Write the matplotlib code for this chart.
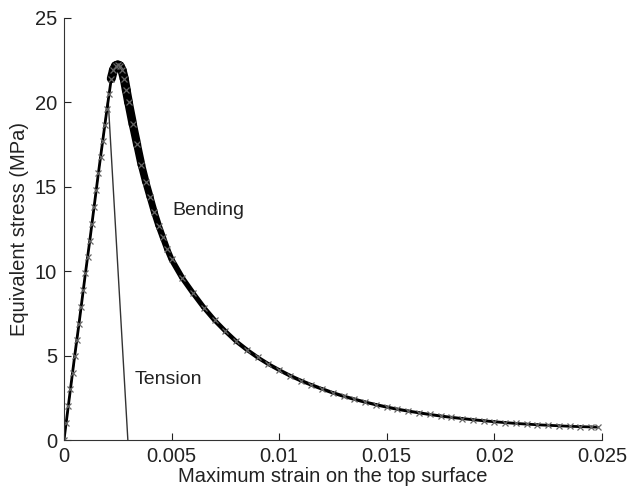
import matplotlib
matplotlib.use("Agg")
import matplotlib.pyplot as plt

plt.rcParams['font.family'] = ['Liberation Sans', 'DejaVu Sans']

# bending curve (strain, MPa)
bend_strain = [0.0, 0.0001, 0.0002, 0.0003, 0.0004, 0.0005, 0.0006, 0.0007,
               0.0008, 0.0009, 0.0010, 0.0011, 0.0012, 0.0013, 0.0014, 0.0015,
               0.0016, 0.0017, 0.0018, 0.0019, 0.0020, 0.0021, 0.0022, 0.0023,
               0.0024, 0.0025, 0.0026, 0.0027, 0.0028, 0.0029, 0.0030, 0.0032,
               0.0034, 0.0036, 0.0038, 0.0040, 0.0042, 0.0044, 0.0046, 0.0048,
               0.0050, 0.0055, 0.0060, 0.0065, 0.0070, 0.0075, 0.0080, 0.0085,
               0.0090, 0.0095, 0.0100, 0.0105, 0.0110, 0.0115, 0.0120, 0.0125,
               0.0130, 0.0135, 0.0140, 0.0145, 0.0150, 0.0155, 0.0160, 0.0165,
               0.0170, 0.0175, 0.0180, 0.0185, 0.0190, 0.0195, 0.0200, 0.0205,
               0.0210, 0.0215, 0.0220, 0.0225, 0.0230, 0.0235, 0.0240, 0.0245,
               0.0248]
bend_stress = [0.0, 1.0, 2.0, 3.0, 4.0, 5.0, 5.95, 6.9,
               7.9, 8.9, 9.9, 10.85, 11.8, 12.8, 13.8, 14.8,
               15.8, 16.75, 17.7, 18.65, 19.6, 20.5, 21.4, 21.9,
               22.15, 22.2, 22.15, 21.9, 21.4, 20.7, 20.0, 18.7,
               17.5, 16.3, 15.3, 14.4, 13.5, 12.7, 12.0, 11.3,
               10.7, 9.6, 8.7, 7.85, 7.1, 6.45, 5.85, 5.35,
               4.9, 4.5, 4.15, 3.82, 3.53, 3.27, 3.03, 2.8,
               2.6, 2.42, 2.25, 2.1, 1.96, 1.83, 1.72, 1.62,
               1.52, 1.43, 1.35, 1.28, 1.21, 1.15, 1.09, 1.04,
               0.99, 0.95, 0.91, 0.88, 0.85, 0.82, 0.8, 0.78,
               0.77]

# tension curve
ten_strain = [0.0, 0.00205, 0.00297]
ten_stress = [0.0, 20.2, 0.0]

x_ticks = [0, 0.005, 0.01, 0.015, 0.02, 0.025]
x_labels = ['0', '0.005', '0.01', '0.015', '0.02', '0.025']
y_ticks = [0, 5, 10, 15, 20, 25]

fig = plt.figure(figsize=(6.27, 4.94), dpi=100)
ax = fig.add_axes([0.102, 0.109, 0.858, 0.855])

ax.plot(ten_strain, ten_stress, color='#333333', lw=1.0)

# dense markers after the peak make the band look thicker
peak = 22
ax.plot(bend_strain[:peak + 1], bend_stress[:peak + 1], color='black', lw=2.0)
for i in range(peak, len(bend_strain) - 1):
    w = 1.8 + 0.22 * bend_stress[i]
    ax.plot(bend_strain[i:i + 2], bend_stress[i:i + 2], color='black', lw=w,
            solid_capstyle='round')
ax.plot(bend_strain, bend_stress, ls='none', marker='x', ms=5, mew=0.9,
        color='#666666')

ax.text(0.00502, 13.3, 'Bending', fontsize=14, color='#222222')
ax.text(0.0033, 3.3, 'Tension', fontsize=14, color='#222222')

ax.set_xlim(0, 0.025)
ax.set_ylim(0, 25)
ax.set_xticks(x_ticks)
ax.set_xticklabels(x_labels)
ax.set_yticks(y_ticks)
ax.tick_params(direction='in', length=5, labelsize=14.5, colors='#222222', pad=5)
for s in ['top', 'right']:
    ax.spines[s].set_visible(False)
for s in ['left', 'bottom']:
    ax.spines[s].set_color('#333333')

ax.set_xlabel('Maximum strain on the top surface', fontsize=14.5, color='#222222', labelpad=1)
ax.set_ylabel('Equivalent stress (MPa)', fontsize=14.5, color='#222222', labelpad=4)

fig.savefig('out.png', dpi=100)
